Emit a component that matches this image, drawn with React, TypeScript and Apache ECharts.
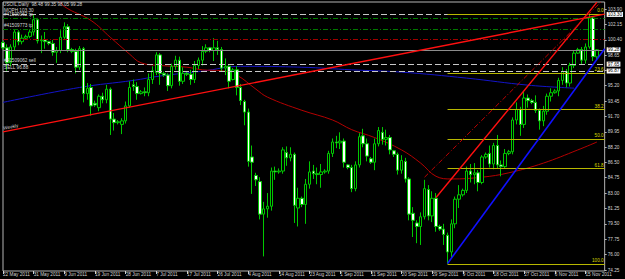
import React, { useEffect, useRef } from "react";
import * as echarts from "echarts";

// ---------- data ----------
const SYMBOL = "USOIL,Daily";
const TICK_LABELS = [
  "22 May 2011", "31 May 2011", "9 Jun 2011", "19 Jun 2011", "28 Jun 2011",
  "7 Jul 2011", "17 Jul 2011", "26 Jul 2011", "4 Aug 2011", "14 Aug 2011",
  "23 Aug 2011", "1 Sep 2011", "11 Sep 2011", "20 Sep 2011", "29 Sep 2011",
  "9 Oct 2011", "18 Oct 2011", "27 Oct 2011", "6 Nov 2011", "15 Nov 2011",
];
const BARS_PER_LABEL = 8;
const SLOT_COUNT = 158;
const PRICE_TICKS = [74.25, 76.0, 77.75, 79.5, 81.25, 83.0, 84.75, 86.5, 88.2, 89.95, 91.7, 93.45, 95.2, 96.9, 98.65, 100.4, 102.15, 103.9];

// [open, close, low, high]
const OHLC: number[][] = [
  [100.1, 99.5, 99.3, 100.3], [99.5, 97.8, 96.9, 99.9], [97.8, 99.6, 97.4, 99.9], [99.6, 101.3, 99.2, 101.6],
  [101.3, 100.2, 99.8, 101.5], [100.2, 100.6, 99.9, 101.0], [100.6, 100.8, 100.5, 101.0], [100.8, 101.3, 100.6, 101.6],
  [101.3, 102.7, 100.9, 103.3], [102.7, 100.3, 100.0, 102.9], [100.3, 100.4, 98.9, 100.9], [100.4, 100.2, 99.4, 101.3],
  [100.2, 100.0, 99.8, 100.3], [100.0, 99.0, 98.6, 100.4], [99.0, 99.2, 97.8, 99.6], [99.2, 100.7, 98.9, 101.5],
  [100.7, 101.9, 100.5, 102.4], [101.9, 99.3, 99.0, 102.2], [99.3, 99.1, 98.9, 99.5], [99.1, 97.3, 96.6, 99.4],
  [97.3, 99.4, 97.0, 99.7], [99.4, 94.3, 93.3, 99.6], [94.3, 94.9, 93.6, 95.5], [95.0, 92.9, 91.8, 95.4],
  [93.2, 93.0, 92.8, 93.5], [92.7, 94.0, 92.3, 94.2], [94.0, 93.6, 93.2, 94.4], [93.6, 94.8, 93.2, 95.3],
  [94.8, 91.4, 89.6, 95.0], [91.4, 91.0, 90.1, 92.1], [91.0, 91.1, 90.8, 91.3], [90.8, 91.2, 89.7, 91.5],
  [91.2, 92.9, 90.9, 93.4], [92.9, 95.0, 92.7, 95.7], [95.3, 95.1, 94.6, 95.9], [95.1, 94.3, 93.6, 95.6],
  [94.3, 94.5, 94.2, 94.7], [94.5, 94.4, 94.0, 95.0], [94.4, 95.9, 94.0, 96.6], [95.9, 96.9, 95.4, 97.4],
  [96.7, 98.7, 96.4, 99.0], [98.7, 96.6, 95.3, 98.9], [96.6, 96.4, 96.2, 96.8], [96.4, 95.2, 94.6, 96.6],
  [95.2, 97.4, 94.9, 97.7], [97.4, 98.1, 97.0, 98.6], [98.1, 95.7, 95.2, 98.5], [95.7, 96.6, 95.4, 97.3],
  [96.6, 96.5, 96.3, 96.8], [96.5, 95.9, 95.3, 97.0], [95.9, 97.5, 95.5, 98.0], [97.5, 98.1, 97.1, 98.4],
  [98.1, 99.1, 97.5, 99.7], [99.1, 99.5, 98.9, 99.9], [99.5, 99.2, 99.0, 99.6], [99.2, 99.5, 98.0, 100.6],
  [99.5, 99.3, 98.7, 100.3], [99.3, 97.2, 96.8, 99.6], [97.2, 97.4, 96.4, 98.3], [97.4, 95.7, 94.9, 97.6],
  [95.9, 97.0, 95.8, 97.2], [97.0, 95.0, 94.1, 97.4], [95.0, 93.5, 93.0, 95.4], [93.4, 92.2, 90.7, 93.6],
  [92.2, 86.6, 86.0, 92.6], [87.1, 86.5, 82.9, 88.4], [85.0, 84.5, 83.8, 85.3], [84.3, 80.6, 80.0, 84.8],
  [80.6, 81.2, 75.8, 82.0], [81.2, 81.5, 80.2, 83.0], [81.5, 85.5, 81.0, 85.9], [85.5, 85.4, 84.5, 86.0],
  [85.4, 85.5, 85.2, 85.8], [85.5, 87.9, 85.2, 88.2], [87.6, 87.0, 86.1, 88.3], [87.0, 87.4, 86.6, 88.2],
  [87.4, 81.6, 79.6, 87.6], [81.3, 82.4, 79.2, 83.6], [82.4, 81.7, 81.4, 82.6], [81.7, 84.0, 79.5, 84.6],
  [84.0, 85.4, 83.5, 86.6], [85.5, 85.2, 84.6, 86.2], [85.2, 85.1, 84.0, 85.9], [85.1, 85.4, 83.6, 86.3],
  [85.4, 85.5, 85.2, 85.7], [85.5, 87.5, 85.2, 87.8], [87.5, 88.8, 87.1, 89.2], [88.8, 88.7, 88.1, 89.5],
  [88.7, 88.9, 88.0, 89.9], [88.9, 86.5, 85.9, 89.2], [86.2, 85.9, 85.7, 86.3], [85.9, 83.5, 83.1, 86.2],
  [83.5, 86.2, 83.2, 86.6], [86.2, 89.4, 85.9, 89.8], [89.5, 88.6, 88.2, 90.3], [88.6, 87.2, 86.6, 89.2],
  [86.9, 86.5, 86.3, 87.1], [86.5, 88.6, 85.6, 89.2], [88.6, 90.1, 88.3, 90.5], [89.9, 89.1, 88.5, 90.5],
  [89.1, 89.3, 88.4, 90.2], [89.3, 87.9, 87.4, 89.6], [87.8, 87.4, 87.1, 87.9], [87.4, 85.6, 85.1, 87.6],
  [85.6, 86.7, 85.2, 87.3], [86.6, 84.6, 84.2, 87.0], [84.6, 80.6, 79.9, 84.8], [80.7, 79.9, 78.0, 81.4],
  [79.6, 79.2, 77.3, 79.9], [79.2, 80.3, 77.1, 80.8], [80.3, 83.5, 80.0, 84.5], [83.4, 80.4, 79.9, 83.9],
  [80.4, 82.4, 79.7, 83.2], [82.4, 79.2, 78.6, 83.0], [79.2, 78.9, 78.7, 79.4], [78.9, 78.3, 77.1, 79.5],
  [78.2, 76.3, 74.95, 78.5], [76.3, 79.5, 75.7, 80.0], [79.5, 82.3, 79.0, 82.6], [82.3, 82.8, 81.3, 83.9],
  [82.8, 83.3, 82.6, 83.5], [83.3, 85.5, 83.0, 86.0], [85.5, 85.1, 84.2, 86.3], [85.1, 85.3, 84.0, 86.4],
  [85.3, 84.2, 83.2, 85.6], [84.2, 87.1, 84.0, 87.3], [87.1, 87.4, 86.9, 87.6], [87.5, 86.3, 85.9, 88.4],
  [86.3, 88.4, 85.7, 88.7], [88.4, 86.2, 85.8, 89.6], [86.2, 86.0, 84.9, 86.7], [86.0, 87.5, 85.8, 88.0],
  [87.5, 87.7, 87.3, 87.9], [87.7, 91.3, 87.4, 91.6], [91.3, 92.5, 90.8, 93.3], [92.5, 90.8, 89.5, 92.8],
  [90.8, 93.8, 90.4, 94.6], [93.8, 93.5, 92.7, 94.2], [93.5, 93.3, 93.1, 93.7], [93.3, 92.4, 92.1, 94.1],
  [92.4, 91.2, 90.2, 92.6], [91.2, 92.3, 90.6, 92.9], [92.3, 94.0, 91.9, 94.3], [94.0, 94.4, 93.4, 94.9],
  [94.4, 94.6, 94.3, 94.8], [94.6, 95.8, 94.0, 96.1], [95.8, 96.8, 95.3, 97.3], [96.8, 95.5, 95.0, 97.1],
  [95.5, 97.5, 95.1, 97.8], [97.5, 98.9, 97.2, 99.2], [98.9, 99.3, 98.8, 99.5], [99.3, 98.1, 97.6, 99.6],
  [98.1, 99.6, 97.7, 100.0], [99.6, 102.9, 99.4, 103.33], [102.9, 98.5, 98.0, 103.1], [98.48, 99.28, 98.05, 99.35],
];

// moving averages, [bar, price]
const MA_RED: number[][] = [
  [14, 105.3], [16, 104.2], [23, 102.6], [28, 100.7], [33, 98.8], [36, 97.8], [41, 97.5], [48, 97.3],
  [52, 97.0], [57, 96.9], [61, 96.4], [66, 94.8], [69, 93.9], [78, 92.4], [86, 91.3], [91, 90.2],
  [97, 89.3], [104, 87.9], [109, 86.4], [113, 84.9], [117, 84.6], [125, 84.8], [132, 85.3], [141, 86.4],
  [150, 87.9], [155, 88.8],
];
const MA_BLUE: number[][] = [
  [0, 93.3], [20, 95.0], [34, 95.8], [41, 96.3], [52, 96.85], [62, 97.4], [78, 97.3], [91, 97.0],
  [104, 96.74], [121, 96.06], [137, 95.26], [149, 94.92],
];

// trend lines: [bar1, price1, bar2, price2]
const WEEKLY_LINE = [0, 89.95, 157, 103.33];
const RED_CHANNEL = [113, 82.5, 155, 104.7];
const RED_MEDIAN = [110, 84.8, 156, 104.7];
const BLUE_LINE = [116, 75.0, 157, 99.4];

// fibonacci retracement
const FIB_START_BAR = 116;
const FIB_HIGH = 103.33;
const FIB_LOW = 74.92;
const FIB_LEVELS = [0, 23.6, 38.2, 50.0, 61.8, 100.0];

// horizontal objects
const OBJ_HIGH = 103.3;
const TP_LINES = [102.88, 101.63];
const TP_NAMES = ["#41509062 tp", "#41509773 tp"];
const SL_LINE = 100.49;
const SELL_LINES = [97.65, 96.87];
const SELL_NAMES = ["#41509062 sell", "SELL 96.88"];

// ---------- chart ----------
const FONT = "Liberation Sans, Arial, sans-serif";
const FS = 4.7;
const TXT = "#d4d4d4";
const CLEAR = "rgba(0,0,0,0)";

function buildOption() {
  const slots = Array.from({ length: SLOT_COUNT }, (_, i) => String(i));
  const candles: any[] = OHLC.map((r) => r.slice());
  while (candles.length < SLOT_COUNT) candles.push("-");
  const last = OHLC[OHLC.length - 1];
  const header = `${SYMBOL}  ${last[0].toFixed(2)} ${last[3].toFixed(2)} ${last[2].toFixed(2)} ${last[1].toFixed(2)}`;

  const boxLabel = (txt: string) => ({
    show: true,
    position: "end",
    formatter: txt,
    backgroundColor: "#ffffff",
    color: "#000000",
    fontSize: FS,
    fontFamily: FONT,
    padding: [0, 1, 0, 1],
    distance: 2,
  });
  const leftLabel = (txt: string) => ({
    show: true,
    position: "insideStartTop",
    formatter: txt,
    color: TXT,
    fontSize: FS,
    fontFamily: FONT,
    distance: 1,
  });
  const hline = (price: number, color: string, type: any, label: any) => ({
    yAxis: price,
    lineStyle: { color, type, width: 1 },
    label: label || { show: false },
  });
  const seg = (l: number[], color: string, type: any, width: number, label?: any) => [
    { coord: [l[0], l[1]], lineStyle: { color, type, width }, label: label || { show: false } },
    { coord: [l[2], l[3]] },
  ];

  const lastBar = SLOT_COUNT - 1;
  const fibLines = FIB_LEVELS.map((lv) => {
    const p = FIB_HIGH - (lv / 100) * (FIB_HIGH - FIB_LOW);
    return [
      {
        coord: [FIB_START_BAR, p],
        lineStyle: { color: "#b8b800", type: "solid", width: 1 },
        label: {
          show: true,
          position: "insideEndTop",
          formatter: lv.toFixed(1),
          color: "#d8d800",
          fontSize: FS,
          fontFamily: FONT,
          distance: 1,
        },
      },
      { coord: [lastBar, p] },
    ];
  });

  const dashW = [6, 3];
  const dashDot = [5, 2, 1, 2];
  const markData: any[] = [
    hline(OBJ_HIGH, "#c8c8c8", dashW, leftLabel(`MOPH ${OBJ_HIGH.toFixed(2)}`)),
    ...TP_LINES.map((p, i) => hline(p, "#007a00", dashDot, leftLabel(TP_NAMES[i]))),
    hline(SL_LINE, "#a00000", dashDot, null),
    hline(last[1], "#8c8c8c", "solid", boxLabel(last[1].toFixed(2))),
    ...SELL_LINES.map((p, i) => hline(p, "#c8c8c8", dashW, leftLabel(SELL_NAMES[i]))),
    ...fibLines,
    seg(WEEKLY_LINE, "#ff1010", "solid", 1.4, leftLabel("Weekly")),
    seg(RED_CHANNEL, "#ff1010", "solid", 1.4),
    seg(RED_MEDIAN, "#c00000", dashDot, 1),
    seg(BLUE_LINE, "#1010ff", "solid", 1.6),
    // price boxes on the right scale
    hline(OBJ_HIGH, CLEAR, "solid", boxLabel(OBJ_HIGH.toFixed(2))),
    ...SELL_LINES.map((p) => hline(p, CLEAR, "solid", boxLabel(p.toFixed(2)))),
  ];

  return {
    animation: false,
    backgroundColor: "#000000",
    textStyle: { fontFamily: FONT },
    title: {
      text: header,
      left: 3,
      top: 2,
      padding: 0,
      textStyle: { color: TXT, fontSize: FS, fontWeight: "normal", fontFamily: FONT },
    },
    grid: {
      left: 2,
      right: 20,
      top: 2,
      bottom: 8,
      show: true,
      borderColor: "#b4b4b4",
      borderWidth: 1,
      backgroundColor: "transparent",
    },
    xAxis: {
      type: "category",
      data: slots,
      boundaryGap: false,
      axisLine: { show: false },
      splitLine: { show: false },
      axisTick: {
        show: true,
        length: 3,
        interval: (i: number) => i % BARS_PER_LABEL === 0,
        lineStyle: { color: "#d0d0d0", width: 1 },
      },
      axisLabel: {
        interval: (i: number) => i % BARS_PER_LABEL === 0,
        formatter: (_v: string, i: number) => TICK_LABELS[i / BARS_PER_LABEL] || "",
        align: "left",
        color: TXT,
        fontSize: FS,
        fontFamily: FONT,
        margin: 1,
      },
    },
    yAxis: {
      type: "value",
      position: "right",
      min: 74.14,
      max: 104.71,
      scale: true,
      splitLine: { show: false },
      axisLine: { show: false },
      axisTick: { show: true, length: 2, customValues: PRICE_TICKS, lineStyle: { color: "#b4b4b4" } },
      axisLabel: {
        customValues: PRICE_TICKS,
        formatter: (v: number) => v.toFixed(2),
        color: TXT,
        fontSize: FS,
        fontFamily: FONT,
        margin: 3,
      },
    },
    series: [
      {
        type: "line",
        data: MA_BLUE,
        smooth: 0.4,
        showSymbol: false,
        lineStyle: { color: "#1414c8", width: 1 },
        z: 1,
      },
      {
        type: "line",
        data: MA_RED,
        smooth: 0.4,
        showSymbol: false,
        lineStyle: { color: "#b40000", width: 1 },
        z: 1,
      },
      {
        type: "candlestick",
        data: candles,
        barWidth: 3,
        z: 3,
        itemStyle: {
          color: "#000000",
          color0: "#ffffff",
          borderColor: "#00c800",
          borderColor0: "#00c800",
          borderWidth: 1,
        },
        markLine: {
          symbol: ["none", "none"],
          silent: true,
          animation: false,
          data: markData,
        },
      },
    ],
  };
}

export default function App() {
  const ref = useRef<HTMLDivElement>(null);
  useEffect(() => {
    if (!ref.current) return;
    const chart = echarts.init(ref.current, null, { renderer: "svg" });
    chart.setOption(buildOption() as any);
    return () => chart.dispose();
  }, []);
  return (
    <div
      ref={ref}
      style={{ position: "absolute", left: 0, top: 0, width: 625, height: 279, background: "#000" }}
    />
  );
}
